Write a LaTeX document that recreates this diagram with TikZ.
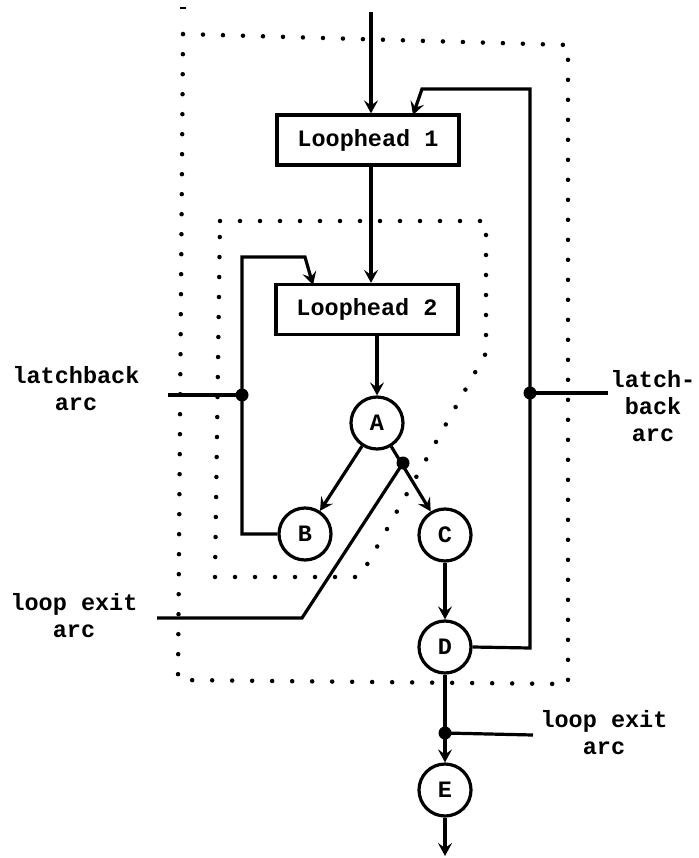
\documentclass[tikz,border=0pt]{standalone}
\usepackage{fontspec}
\setmonofont{Liberation Mono}
\usetikzlibrary{arrows.meta,calc}
\begin{document}
\begin{tikzpicture}[x=1pt,y=-1pt,
  every node/.style={font=\fontsize{23.5}{27}\selectfont\ttfamily\bfseries},
  conn/.style={line width=3.2pt},
  arr/.style={conn,-{Stealth[length=13pt,width=14pt,inset=5pt]}},
  boxnode/.style={draw,line width=3.2pt,minimum width=182pt,minimum height=50pt,inner sep=0pt},
  cnode/.style={draw,circle,line width=3.2pt,minimum size=52pt,inner sep=0pt},
  dotline/.style={line width=4.5pt,line cap=round,dash pattern=on 0pt off 20pt},
  jdot/.style={circle,fill=black,minimum size=13pt,inner sep=0pt},
  lbl/.style={align=center,inner sep=0pt}]
\useasboundingbox (0,0) rectangle (698,858);
% dotted regions
\draw[dotline] (183,34) -- (568,45) -- (568,684) -- (178,680) -- cycle;
\draw[dotline] (220,221) -- (486,221) -- (486,353) -- (360,577) -- (215,577) -- cycle;
\draw[line width=2.5pt] (180,8) -- (186,8);
% nodes
\node[boxnode] (L1) at (368,140) {Loophead 1};
\node[boxnode] (L2) at (367,309.5) {Loophead 2};
\node[cnode] (A) at (377,423) {A};
\node[cnode] (B) at (305,534) {B};
\node[cnode] (C) at (445,535) {C};
\node[cnode] (D) at (445,647) {D};
\node[cnode] (E) at (445,790) {E};
% coordinates
\coordinate (top) at (371,12);
\coordinate (bot) at (445,856);
\coordinate (ro) at (530,648);
\coordinate (rt) at (530,89);
\coordinate (rb) at (422,89);
\coordinate (lo) at (242,534);
\coordinate (lt) at (242,257);
\coordinate (lb) at (305,257);
\coordinate (lx1) at (302,618);
\coordinate (lx2) at (157,618);
\coordinate (lbl1) at (168,395);
\coordinate (lbr1) at (608,393);
\coordinate (lxr) at (533,735);
% junction dots
\node[jdot] (j1) at (242,395) {};
\node[jdot] (j2) at (530,393) {};
\node[jdot] (j3) at (403,463) {};
\node[jdot] (j4) at (445,733) {};
% connectors
\draw[arr] (top) -- (top |- L1.north);
\draw[arr] (L1.south -| top) -- (L2.north -| top);
\draw[arr] (L2.south -| A) -- (A.north);
\draw[arr] (A) -- (B);
\draw[arr] (A) -- (C);
\draw[arr] (C) -- (D);
\draw[arr] (D) -- (E);
\draw[arr] (E) -- (bot);
\draw[arr] (D.east) -- (ro) -- (rt) -- (rb) -- (413,115);
\draw[arr] (B.west) -- (lo) -- (lt) -- (lb) -- (313,285);
\draw[conn] (j3.center) -- (lx1) -- (lx2);
\draw[conn] (lbl1) -- (j1.center);
\draw[conn] (j2.center) -- (lbr1);
\draw[conn] (j4.center) -- (lxr);
% labels
\node[lbl] (t1) at (76,389) {latchback\\arc};
\node[lbl] (t2) at (74,616) {loop exit\\arc};
\node[lbl] (t3) at (653,406) {latch-\\back\\arc};
\node[lbl] (t4) at (604,733) {loop exit\\arc};
\end{tikzpicture}
\end{document}
